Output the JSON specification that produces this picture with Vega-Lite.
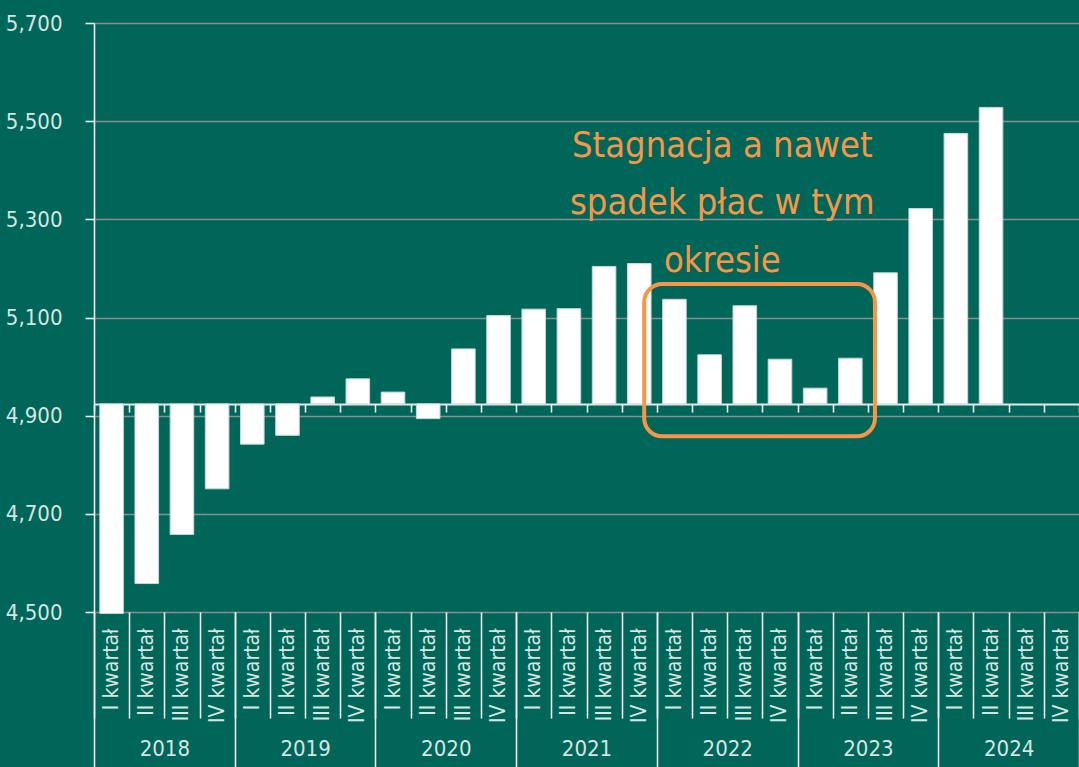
{
  "$schema": "https://vega.github.io/schema/vega-lite/v6.json",
  "width": 985,
  "height": 589,
  "autosize": {"type": "none"},
  "padding": {"left": 94, "top": 23, "right": 0, "bottom": 155},
  "background": "#00665A",
  "config": {
    "view": {"stroke": null},
    "axis": {"labelFont": "Liberation Sans Narrow, DejaVu Sans Condensed, Roboto Condensed, Roboto, sans-serif", "labelColor": "#d6e5e1"}
  },
  "datasets": {
    "q": [
      {"key": "2018 I", "year": "2018", "value": 4497},
      {"key": "2018 II", "year": "2018", "value": 4558},
      {"key": "2018 III", "year": "2018", "value": 4658},
      {"key": "2018 IV", "year": "2018", "value": 4751},
      {"key": "2019 I", "year": "2019", "value": 4842},
      {"key": "2019 II", "year": "2019", "value": 4860},
      {"key": "2019 III", "year": "2019", "value": 4938},
      {"key": "2019 IV", "year": "2019", "value": 4975},
      {"key": "2020 I", "year": "2020", "value": 4948},
      {"key": "2020 II", "year": "2020", "value": 4894},
      {"key": "2020 III", "year": "2020", "value": 5036},
      {"key": "2020 IV", "year": "2020", "value": 5104},
      {"key": "2021 I", "year": "2021", "value": 5117},
      {"key": "2021 II", "year": "2021", "value": 5118},
      {"key": "2021 III", "year": "2021", "value": 5204},
      {"key": "2021 IV", "year": "2021", "value": 5210},
      {"key": "2022 I", "year": "2022", "value": 5137},
      {"key": "2022 II", "year": "2022", "value": 5024},
      {"key": "2022 III", "year": "2022", "value": 5124},
      {"key": "2022 IV", "year": "2022", "value": 5015},
      {"key": "2023 I", "year": "2023", "value": 4956},
      {"key": "2023 II", "year": "2023", "value": 5017},
      {"key": "2023 III", "year": "2023", "value": 5191},
      {"key": "2023 IV", "year": "2023", "value": 5322},
      {"key": "2024 I", "year": "2024", "value": 5475},
      {"key": "2024 II", "year": "2024", "value": 5528},
      {"key": "2024 III", "year": "2024", "value": null},
      {"key": "2024 IV", "year": "2024", "value": null}
    ],
    "years": [
      {"year": "2018"}, {"year": "2019"}, {"year": "2020"}, {"year": "2021"},
      {"year": "2022"}, {"year": "2023"}, {"year": "2024"}
    ]
  },
  "layer": [
    {
      "data": {"name": "q"},
      "layer": [
        {
          "mark": {"type": "bar", "color": "white", "stroke": "#c5dad5", "strokeWidth": 1, "width": {"band": 0.67}},
          "encoding": {
            "x": {
              "field": "key", "type": "nominal", "sort": null,
              "scale": {
                "domain": ["2018 I","2018 II","2018 III","2018 IV","2019 I","2019 II","2019 III","2019 IV","2020 I","2020 II","2020 III","2020 IV","2021 I","2021 II","2021 III","2021 IV","2022 I","2022 II","2022 III","2022 IV","2023 I","2023 II","2023 III","2023 IV","2024 I","2024 II","2024 III","2024 IV"],
                "paddingInner": 0, "paddingOuter": 0
              },
              "axis": {
                "title": null, "orient": "bottom", "domain": false,
                "tickBand": "extent", "tickSize": 106, "tickColor": "white", "tickWidth": 1.5,
                "labelAngle": -90, "labelAlign": "right", "labelBaseline": "middle",
                "labelPadding": -90, "labelFontSize": 21,
                "labelExpr": "datum.value ? split(datum.value, ' ')[1] + ' kwartał' : ''"
              }
            },
            "y": {
              "field": "value", "type": "quantitative",
              "scale": {"domain": [4500, 5700], "nice": false, "zero": false},
              "axis": {
                "title": null, "values": [4500, 4700, 4900, 5100, 5300, 5500, 5700], "format": ",.0f",
                "domainColor": "white", "domainWidth": 1.5,
                "tickColor": "white", "tickSize": 9, "tickWidth": 1.5,
                "labelPadding": 23, "labelFontSize": 22,
                "grid": true, "gridColor": "#8a8f8d", "gridWidth": 1.5
              }
            },
            "y2": {"datum": 4924}
          }
        },
        {
          "mark": {"type": "point", "opacity": 0},
          "encoding": {
            "x": {
              "field": "key", "type": "nominal", "sort": null,
              "axis": {
                "title": null, "orient": "bottom", "offset": -208,
                "domain": true, "domainColor": "#e4e8e7", "domainWidth": 2,
                "tickBand": "extent", "tickSize": 8, "tickColor": "white", "tickWidth": 1.5,
                "labels": false
              }
            }
          }
        },
        {
          "data": {"values": [{}]},
          "mark": {"type": "rect", "fill": "transparent", "stroke": "#F79646", "strokeWidth": 4, "cornerRadius": 18},
          "encoding": {
            "x": {"datum": "2021 IV", "type": "nominal", "bandPosition": 0.64, "axis": null},
            "x2": {"datum": "2023 III", "bandPosition": 0.2},
            "y": {"datum": 5168, "type": "quantitative", "axis": {"title": null, "values": [4500, 4700, 4900, 5100, 5300, 5500, 5700], "format": ",.0f"}},
            "y2": {"datum": 4858}
          }
        },
        {
          "data": {"values": [{}]},
          "mark": {
            "type": "text", "text": ["Stagnacja a nawet", "spadek płac w tym", "okresie"],
            "font": "Liberation Sans Narrow, DejaVu Sans Condensed, Roboto Condensed, Roboto, sans-serif", "fontSize": 36, "color": "#F79646",
            "align": "center", "baseline": "alphabetic", "lineHeight": 57.5
          },
          "encoding": {
            "x": {"datum": "2022 II", "type": "nominal", "bandPosition": 0.86, "axis": null},
            "y": {"datum": 5428, "type": "quantitative", "axis": {"title": null, "values": [4500, 4700, 4900, 5100, 5300, 5500, 5700], "format": ",.0f"}}
          }
        }
      ],
      "resolve": {"axis": {"x": "independent"}}
    },
    {
      "data": {"name": "years"},
      "mark": {"type": "text", "text": ""},
      "encoding": {
        "x": {
          "field": "year", "type": "nominal",
          "scale": {"paddingInner": 0, "paddingOuter": 0},
          "axis": {
            "title": null, "orient": "bottom", "domain": false,
            "tickBand": "extent", "tickSize": 160, "tickColor": "white", "tickWidth": 1.5,
            "labelAngle": 0, "labelBaseline": "top", "labelPadding": -34, "labelFontSize": 22
          }
        }
      }
    }
  ],
  "resolve": {"scale": {"x": "independent"}, "axis": {"x": "independent"}}
}
